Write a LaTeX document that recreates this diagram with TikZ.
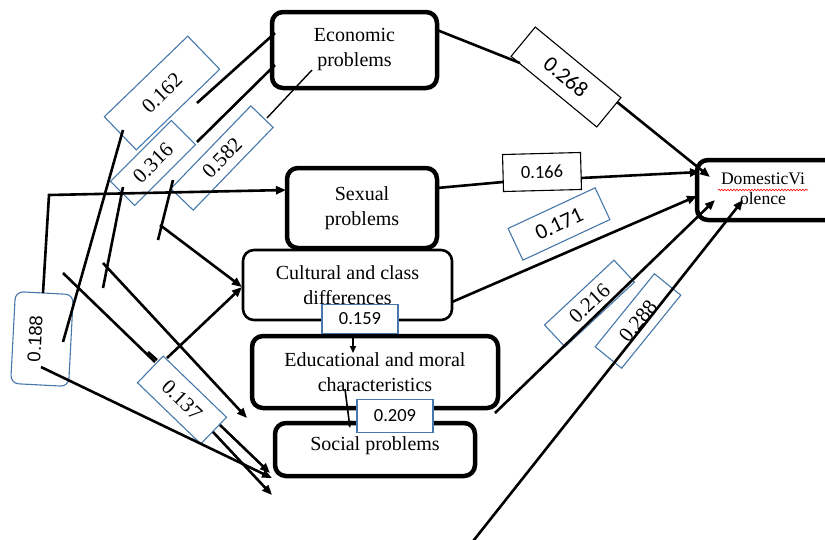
\documentclass[tikz,border=0pt]{standalone}
\usepackage{fontspec}
\setmainfont{Liberation Serif}
\newfontfamily\labsans{Carlito}
\newfontfamily\arialsans{Liberation Sans}
\usetikzlibrary{arrows.meta,decorations.pathmorphing}
\definecolor{lblue}{RGB}{70,120,170}
\begin{document}
\begin{tikzpicture}[x=1pt,y=-1pt,
  mainbox/.style={draw, line width=4.5pt, rounded corners=11pt, align=center,
    font=\fontsize{20}{25}\selectfont, inner sep=0pt, fill=white},
  lab/.style={draw=lblue, line width=1.1pt, fill=white, inner sep=0pt,
    font=\fontsize{21}{21}\selectfont},
  labk/.style={lab, draw=black},
  sanslab/.style={font=\labsans\fontsize{18.5}{19}\selectfont},
  conn/.style={line width=2.6pt},
  arr/.style={conn, -{Triangle[length=10pt,width=8pt]}},
]
\useasboundingbox (0,0) rectangle (825,539);
\begin{scope}
\clip (0,0) rectangle (825,539);

% ---- main boxes
\node[mainbox, minimum width=165pt, minimum height=76pt] (econ) at (354.5,50) {Economic\\problems};
\node[mainbox, minimum width=150pt, minimum height=80pt] (sex) at (362,208) {Sexual\\problems};
\node[mainbox, line width=2.6pt, minimum width=209pt, minimum height=70pt] (cult) at (347.5,285) {Cultural and class\\differences};
\node[mainbox, minimum width=246pt, minimum height=72pt] (edu) at (375,372) {Educational and moral\\characteristics};
\node[mainbox, minimum width=200pt, minimum height=53pt] (soc) at (375,449.5) {\raisebox{11pt}{Social problems}};
\node[mainbox, minimum width=148pt, minimum height=60pt, font=\fontsize{17.6}{20}\selectfont] (dv) at (771,190)
  {\begin{tabular}{@{}c@{}}DomesticVi\\olence\end{tabular}\kern16pt};
\draw[red, line width=0.6pt, decorate, decoration={snake, amplitude=0.8pt, segment length=3pt}] (718,190) -- (808,190);

% ---- coefficient labels
\node[lab, rotate=44, minimum width=116pt, minimum height=46pt] (l162) at (162,93) {0.162};
\node[lab, rotate=45, minimum width=86pt, minimum height=34pt] (l316) at (153,163) {0.316};
\node[lab, rotate=46, minimum width=115pt, minimum height=31pt] (l582) at (222,158) {0.582};
\node[lab, rotate=87, rounded corners=8pt, minimum width=92pt, minimum height=58pt,
  font=\arialsans\fontsize{18.5}{19}\selectfont] (l188) at (42,339) {\raisebox{14pt}{0.188}};
\node[lab, rotate=-44, minimum width=88pt, minimum height=37pt] (l137) at (182,400) {0.137};
\node[lab, sanslab, minimum width=76pt, minimum height=29pt] (l159) at (360,319) {0.159};
\node[lab, sanslab, minimum width=76pt, minimum height=33pt] (l209) at (395,416) {0.209};
\node[labk, sanslab, font=\labsans\fontsize{22}{22}\selectfont, rotate=-39.5, minimum width=111pt, minimum height=38pt] (l268) at (566,77) {0.268};
\node[labk, sanslab, rotate=1.5, minimum width=78pt, minimum height=37pt] (l166) at (542,172) {0.166};
\node[lab, sanslab, font=\labsans\fontsize{22}{22}\selectfont, rotate=25, minimum width=96pt, minimum height=35pt] (l171) at (559,224) {0.171};
\node[lab, rotate=43, minimum width=95pt, minimum height=30pt] (l216) at (589.5,303.5) {0.216};
\node[lab, rotate=51, minimum width=94pt, minimum height=34pt] (l288) at (638,321) {0.288};

% ---- connector end points
\coordinate (econR) at (437,30);
\coordinate (r268a) at (520,63);
\coordinate (r268b) at (617,102);
\coordinate (dvA) at (710,177);
\coordinate (sexR) at (437,188);
\coordinate (r166a) at (503,182);
\coordinate (r166b) at (581,178);
\coordinate (dvB) at (700,172);
\coordinate (cultR) at (452,302);
\coordinate (dvC) at (697,196);
\coordinate (eduR) at (495,413);
\coordinate (dvD) at (715,200);
\coordinate (bottom) at (470,545);
\coordinate (dvE) at (743,200);
\coordinate (s188top) at (43,293);
\coordinate (corner) at (49,195);
\coordinate (sexL) at (286,190);
\coordinate (s188low) at (41,367);
\coordinate (socA) at (272,478);
\coordinate (econL1) at (275,33);
\coordinate (r162a) at (197,103);
\coordinate (r162b) at (123,130);
\coordinate (s188mid) at (63,342);
\coordinate (econL2) at (275,65);
\coordinate (r316a) at (197,142);
\coordinate (r316b) at (123,187);
\coordinate (end316) at (103,288);
\coordinate (econIn) at (312,70);
\coordinate (r582a) at (267,118);
\coordinate (r582b) at (173,180);
\coordinate (end582) at (158,240);
\coordinate (start11) at (160,225);
\coordinate (cultL) at (242,287);
\coordinate (start12) at (103,263);
\coordinate (eduL) at (247,418);
\coordinate (start13) at (63,273);
\coordinate (r137a) at (155,362);
\coordinate (r137b) at (220,425);
\coordinate (socB) at (270,473);
\coordinate (start14) at (148,352);
\coordinate (end14) at (157,360);
\coordinate (r137c) at (213,432);
\coordinate (socC) at (272,495);
\coordinate (r137top) at (167,358);
\coordinate (c159) at (353,334);
\coordinate (eduT) at (353,353);
\coordinate (eduIn) at (345,389);
\coordinate (socT) at (350,428);

% ---- connectors
\draw[conn] (econR) -- (r268a);
\draw[arr] (r268b) -- (dvA);
\draw[conn] (sexR) -- (r166a);
\draw[arr] (r166b) -- (dvB);
\draw[arr] (cultR) -- (dvC);
\draw[arr] (eduR) -- (dvD);
\draw[arr] (bottom) -- (dvE);
\draw[arr] (s188top) -- (corner) -- (sexL);
\draw[arr] (s188low) -- (socA);
\draw[conn] (econL1) -- (r162a);
\draw[conn] (r162b) -- (s188mid);
\draw[conn] (econL2) -- (r316a);
\draw[conn] (r316b) -- (end316);
\draw[line width=1.4pt] (econIn) -- (r582a);
\draw[conn] (r582b) -- (end582);
\draw[arr] (start11) -- (cultL);
\draw[arr] (start12) -- (eduL);
\draw[conn] (start13) -- (r137a);
\draw[arr] (r137b) -- (socB);
\draw[conn] (start14) -- (end14);
\draw[arr] (r137c) -- (socC);
\draw[arr] (r137top) -- (cultL);
\draw[line width=1.6pt, -{Triangle[length=7pt,width=6pt]}] (c159) -- (eduT);
\draw[line width=1.6pt, -{Triangle[length=7pt,width=6pt]}] (eduIn) -- (socT);
\end{scope}
\end{tikzpicture}
\end{document}
